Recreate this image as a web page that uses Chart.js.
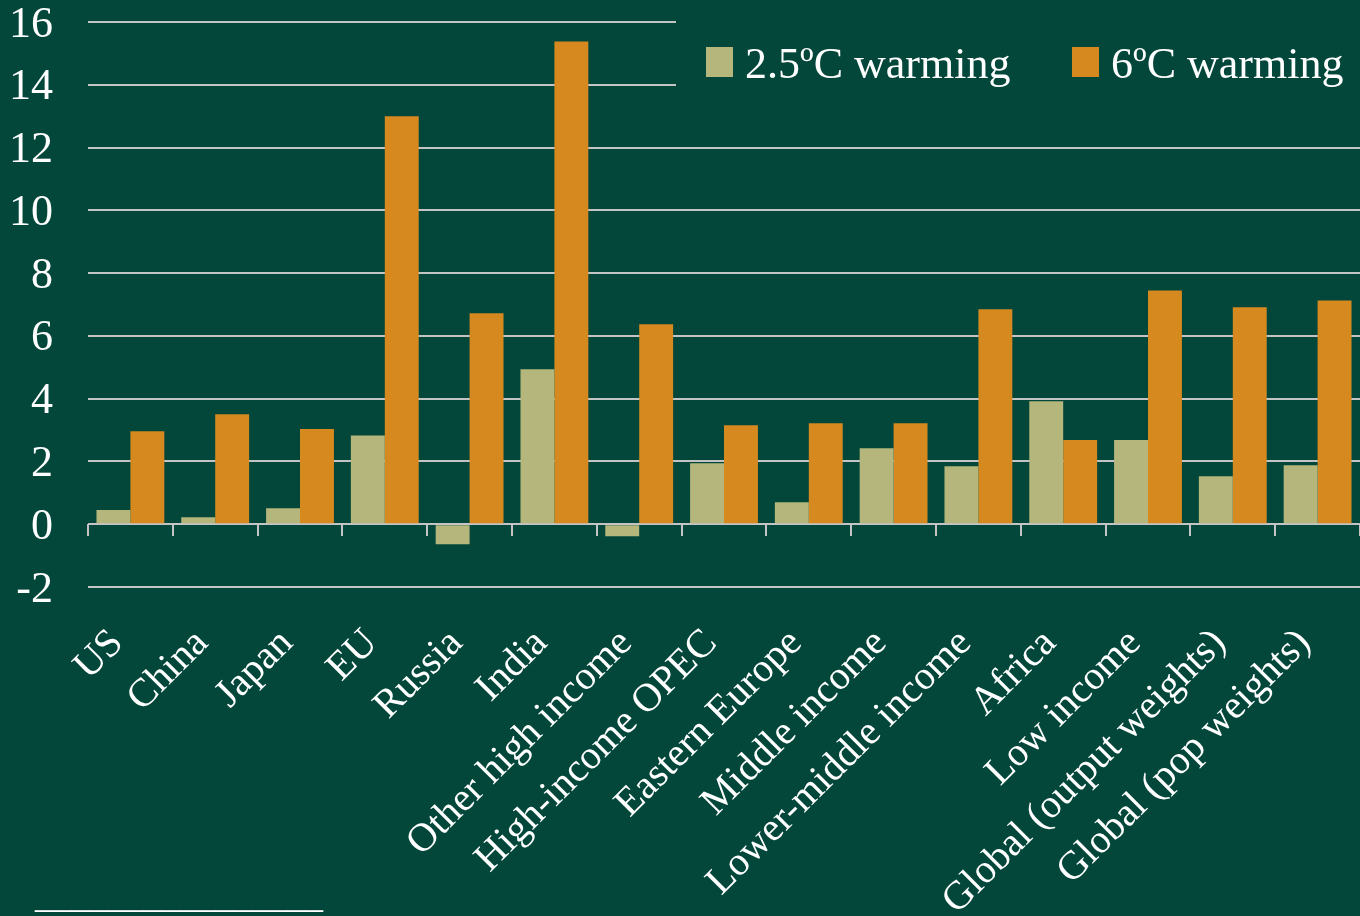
<!DOCTYPE html>
<html>
<head>
<meta charset="utf-8">
<title>Output loss by region under warming</title>
<script src="https://cdn.jsdelivr.net/npm/chart.js@4/dist/chart.umd.min.js"></script>
<style>
  html, body { margin: 0; padding: 0; background: #03473B; }
  #wrap { width: 1360px; height: 916px; position: relative; }
</style>
</head>
<body>
<div id="wrap"><canvas id="chart" width="1360" height="916"></canvas></div>
<script>
// Regions along the horizontal axis
const categories = [
  'US', 'China', 'Japan', 'EU', 'Russia', 'India', 'Other high income',
  'High-income OPEC', 'Eastern Europe', 'Middle income', 'Lower-middle income',
  'Africa', 'Low income', 'Global (output weights)', 'Global (pop weights)'
];

// Loss under each warming scenario (% of output)
const warming25 = [0.45, 0.22, 0.51, 2.83, -0.64, 4.94, -0.38, 1.94, 0.70, 2.42, 1.85, 3.92, 2.68, 1.53, 1.88];
const warming6  = [2.96, 3.50, 3.03, 13.0, 6.72, 15.38, 6.37, 3.15, 3.22, 3.22, 6.85, 2.68, 7.45, 6.91, 7.13];

const seriesLabels = ['2.5ºC warming', '6ºC warming'];
const yTicks = { min: -2, max: 16, step: 2 };

const BG = '#03473B';
const TAN = '#B5B67B';
const ORANGE = '#D6891F';
const GRID = '#C4C4C4';
const SERIF = '"Liberation Serif", "Times New Roman", serif';

// Page background, plus the legend panel that sits over the top gridlines
const panelPlugin = {
  id: 'panel',
  beforeDraw(chart) {
    const ctx = chart.ctx;
    ctx.save();
    ctx.fillStyle = BG;
    ctx.fillRect(0, 0, chart.width, chart.height);
    ctx.restore();
  },
  beforeDatasetsDraw(chart) {
    const ctx = chart.ctx;
    ctx.save();
    ctx.fillStyle = BG;
    ctx.fillRect(676, 0, chart.width - 676, 116);

    ctx.font = '44px ' + SERIF;
    ctx.textBaseline = 'alphabetic';
    ctx.textAlign = 'left';
    const starts = [706, 1072];
    chart.data.datasets.forEach((ds, i) => {
      const x = starts[i];
      ctx.fillStyle = ds.backgroundColor;
      ctx.fillRect(x, 47, 27, 30);
      ctx.fillStyle = '#FFFFFF';
      ctx.fillText(ds.label, x + 39, 78);
    });
    ctx.restore();
  },
  afterDraw(chart) {
    // footnote rule in the lower-left corner
    const ctx = chart.ctx;
    ctx.save();
    ctx.font = '36px ' + SERIF;
    ctx.fillStyle = '#FFFFFF';
    ctx.textAlign = 'left';
    ctx.textBaseline = 'alphabetic';
    ctx.fillText('________________', 35, 907);
    ctx.restore();
  }
};

new Chart(document.getElementById('chart'), {
  type: 'bar',
  data: {
    labels: categories,
    datasets: [
      { label: seriesLabels[0], data: warming25, backgroundColor: TAN, borderWidth: 0 },
      { label: seriesLabels[1], data: warming6, backgroundColor: ORANGE, borderWidth: 0 }
    ]
  },
  plugins: [panelPlugin],
  options: {
    responsive: false,
    animation: false,
    devicePixelRatio: 1,
    layout: { padding: 0 },
    datasets: { bar: { categoryPercentage: 0.8, barPercentage: 1.0 } },
    plugins: {
      legend: { display: false },
      tooltip: { enabled: false },
      title: { display: false }
    },
    scales: {
      x: {
        type: 'category',
        position: 'bottom',
        grid: { display: false },
        border: { display: false },
        ticks: {
          color: '#FFFFFF',
          font: { family: SERIF, size: 40 },
          minRotation: 45,
          maxRotation: 45,
          autoSkip: false,
          padding: 25,
          labelOffset: -13
        },
        afterFit(scale) {
          scale.height = 329;
          scale.paddingLeft = 0;
          scale.paddingRight = 0;
        }
      },
      xZero: {
        axis: 'x',
        type: 'category',
        labels: categories,
        position: { y: 0 },
        offset: true,
        grid: {
          offset: true,
          drawOnChartArea: false,
          drawTicks: true,
          tickLength: 12,
          color: GRID,
          lineWidth: 2
        },
        border: { display: false },
        ticks: { display: false }
      },
      y: {
        min: yTicks.min,
        max: yTicks.max,
        grid: { color: GRID, lineWidth: 2, drawTicks: false },
        border: { display: false },
        ticks: {
          stepSize: yTicks.step,
          color: '#FFFFFF',
          font: { family: SERIF, size: 44, lineHeight: 1 },
          padding: 35,
          labelOffset: 3
        },
        afterFit(scale) {
          scale.width = 88;
          scale.paddingTop = 22;
          scale.paddingBottom = 0;
        }
      }
    }
  }
});
</script>
</body>
</html>
